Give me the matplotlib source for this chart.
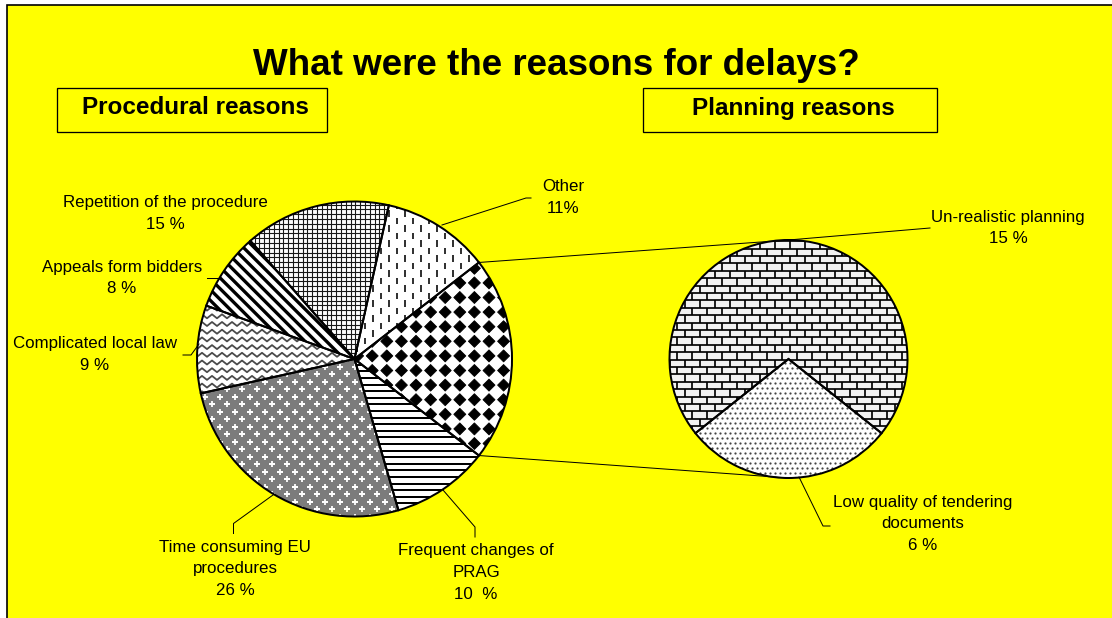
import numpy as np
import matplotlib
matplotlib.use("Agg")
import matplotlib.pyplot as plt
import matplotlib.patches as mpatches
from matplotlib.collections import LineCollection, PolyCollection

# ---------------- data ----------------
title = "What were the reasons for delays?"
group_titles = ["Procedural reasons", "Planning reasons"]

main_labels = ["Other", "Repetition of the procedure", "Appeals form bidders",
               "Complicated local law", "Time consuming EU\nprocedures",
               "Frequent changes of\nPRAG"]
main_values = [11, 15, 8, 9, 26, 10]
main_pct_text = ["11%", "15 %", "8 %", "9 %", "26 %", "10  %"]

sub_labels = ["Un-realistic planning", "Low quality of tendering\ndocuments"]
sub_values = [15, 6]
sub_pct_text = ["15 %", "6 %"]

# ---------------- layout ----------------
W, H = 1112, 618
plt.rcParams["font.family"] = ["Liberation Sans", "DejaVu Sans"]
fig = plt.figure(figsize=(W / 100, H / 100), dpi=100, facecolor="white")
ax = fig.add_axes([0, 0, 1, 1])

def Y(y):  # image y (down) -> data y (up)
    return H - y

PX = 0.72  # points per pixel at dpi 100

# background frame
ax.add_patch(mpatches.Rectangle((7, -10), W + 20, Y(5) + 10, facecolor="#FFFF00",
                                edgecolor="black", lw=1.2, zorder=0))

# ---------------- pies ----------------
c1, r1 = (354.5, Y(359)), 157.5
c2, r2 = (788.5, Y(359)), 119

combined = sum(sub_values)
left_values = [combined] + main_values
half_angle = combined / sum(left_values) * 180.0
wp = dict(edgecolor="none", linewidth=0)
wedges1, _ = ax.pie(left_values, startangle=-half_angle, counterclock=True,
                    center=c1, radius=r1, wedgeprops=wp, frame=True,
                    colors=["white"] * len(left_values))
right_values = [sub_values[1], sub_values[0]]
start2 = -90 - sub_values[1] / combined * 180.0
wedges2, _ = ax.pie(right_values, startangle=start2, counterclock=True,
                    center=c2, radius=r2, wedgeprops=wp, frame=True,
                    colors=["white"] * len(right_values))


def box_grid(c, r, step):
    xs = np.arange(c[0] - r - step, c[0] + r + step, step)
    ys = np.arange(c[1] - r - step, c[1] + r + step, step)
    return xs, ys


def add_lc(segs, w, color, lw_px):
    lc = LineCollection(segs, colors=color, linewidths=lw_px * PX, zorder=2)
    lc.set_clip_path(w)
    ax.add_collection(lc)


def pat_diamonds(w, c, r):
    p, h = 14.6, 6.0
    xs, ys = box_grid(c, r, p)
    polys = []
    for x in xs:
        for y in ys:
            polys.append([(x - h, y), (x - 1, y + h - 1), (x, y + h), (x + 1, y + h - 1),
                          (x + h, y), (x + 1, y - h + 1), (x, y - h), (x - 1, y - h + 1)])
    pc = PolyCollection(polys, facecolor="black", edgecolor="black", lw=0.6, zorder=2)
    pc.set_clip_path(w)
    ax.add_collection(pc)


def pat_dashes(w, c, r):
    dx, per, ln = 8.0, 15.0, 6.5
    xs, ys = box_grid(c, r, per)
    segs = []
    for i, x in enumerate(np.arange(c[0] - r, c[0] + r, dx)):
        off = (per / 2) * (i % 2)
        for y in ys:
            segs.append([(x, y + off), (x, y + off + ln)])
    add_lc(segs, w, "#333333", 2.0)


def pat_grid(w, c, r):
    s = 4.8
    xs, ys = box_grid(c, r, s)
    segs = [[(x, ys[0]), (x, ys[-1])] for x in xs] + [[(xs[0], y), (xs[-1], y)] for y in ys]
    add_lc(segs, w, "#1a1a1a", 1.1)


def pat_diag(w, c, r):
    per = 7.6 * np.sqrt(2)
    segs = []
    for k in np.arange(-3 * r, 3 * r, per):
        x0, x1 = c[0] - r - 5, c[0] + r + 5
        segs.append([(x0, c[1] - (x0 - c[0]) + k), (x1, c[1] - (x1 - c[0]) + k)])
    add_lc(segs, w, "black", 3.3)


def pat_wave(w, c, r):
    row, wl, amp = 7.7, 10.0, 2.0
    xs = np.arange(c[0] - r - wl, c[0] + r + wl, wl / 2)
    segs = []
    for y in np.arange(c[1] - r - row, c[1] + r + row, row):
        segs.append([(x, y + (amp if i % 2 else -amp)) for i, x in enumerate(xs)])
    add_lc(segs, w, "#4a4a4a", 1.8)


def pat_gray_stars(w, c, r):
    w.set_facecolor("#7c7c7c")
    px, rowh = 15.0, 7.5
    pts = []
    for j, y in enumerate(np.arange(c[1] - r - rowh, c[1] + r + rowh, rowh)):
        off = (px / 2) * (j % 2)
        for x in np.arange(c[0] - r - px, c[0] + r + px, px):
            pts.append((x + off, y))
    pts = np.array(pts)
    ln, = ax.plot(pts[:, 0], pts[:, 1], ls="none", marker="+", ms=4.5, mew=1.3,
                  color="white", zorder=2)
    ln.set_clip_path(w)


def pat_hlines(w, c, r):
    s = 6.6
    xs, ys = box_grid(c, r, s)
    segs = [[(xs[0], y), (xs[-1], y)] for y in ys]
    add_lc(segs, w, "black", 2.0)


def pat_bricks(w, c, r):
    w.set_facecolor("#f2f2f2")
    rowh, bw = 7.4, 15.0
    segs = []
    ys = np.arange(c[1] - r - rowh, c[1] + r + rowh, rowh)
    x0, x1 = c[0] - r - bw, c[0] + r + bw
    for j, y in enumerate(ys):
        segs.append([(x0, y), (x1, y)])
        off = (bw / 2) * (j % 2)
        for x in np.arange(x0, x1, bw):
            segs.append([(x + off, y), (x + off, y + rowh)])
    add_lc(segs, w, "black", 1.7)


def pat_dots(w, c, r):
    p = 5.0
    pts = []
    for j, y in enumerate(np.arange(c[1] - r - p, c[1] + r + p, p)):
        off = (p / 2) * (j % 2)
        for x in np.arange(c[0] - r - p, c[0] + r + p, p):
            pts.append((x + off, y))
    pts = np.array(pts)
    ln, = ax.plot(pts[:, 0], pts[:, 1], ls="none", marker="o", ms=1.6, mew=0,
                  color="#444444", zorder=2)
    ln.set_clip_path(w)


left_patterns = [pat_diamonds, pat_dashes, pat_grid, pat_diag, pat_wave,
                 pat_gray_stars, pat_hlines]
for w, f in zip(wedges1, left_patterns):
    f(w, c1, r1)
for w, f in zip(wedges2, [pat_dots, pat_bricks]):
    f(w, c2, r2)

# outlines on top
for w in list(wedges1) + list(wedges2):
    ax.add_patch(mpatches.Wedge(w.center, w.r, w.theta1, w.theta2, fill=False,
                                edgecolor="black", lw=2.0 * PX, zorder=4))

# ---------------- connector lines ----------------
a = np.deg2rad(half_angle)
p_top = (c1[0] + r1 * np.cos(a), c1[1] + r1 * np.sin(a))
p_bot = (c1[0] + r1 * np.cos(a), c1[1] - r1 * np.sin(a))
ax.plot([p_top[0], c2[0]], [p_top[1], c2[1] + r2], color="black", lw=1.0 * PX, zorder=5)
ax.plot([p_bot[0], c2[0]], [p_bot[1], c2[1] - r2], color="black", lw=1.0 * PX, zorder=5)

# ---------------- leader lines (image coords) ----------------
leaders = [
    [(442, 225), (526, 198), (531, 198)],          # Other
    None,                                           # Repetition
    [(207, 278), (218, 278)],                       # Appeals
    [(183, 355), (191, 355), (199, 344)],           # Complicated
    [(273, 495), (233.5, 523.5), (233.5, 533.5)],   # Time consuming
    [(443, 490), (475, 527), (475, 537)],           # Frequent
]
sub_leaders = [
    [(788.5, 240), (930, 228)],                     # Un-realistic
    [(799, 477), (823, 526), (830, 526)],           # Low quality
]
for pts in leaders + sub_leaders:
    if pts:
        xs, ys = zip(*pts)
        ax.plot(xs, [Y(v) for v in ys], color="black", lw=1.0 * PX, zorder=5)

# ---------------- labels ----------------
label_pos = [(563, 197.5), (165, 213.5), (122, 278), (95, 354.5), (235, 569), (476, 572.5)]
sub_label_pos = [(1008, 228), (923, 524)]
for txt, pct, (x, y) in zip(main_labels + sub_labels, main_pct_text + sub_pct_text,
                            label_pos + sub_label_pos):
    ax.text(x, Y(y), f"{txt}\n{pct}", ha="center", va="center", multialignment="center",
            fontsize=12.2, linespacing=1.55, color="black", zorder=6)

# ---------------- titles ----------------
ax.text(556.5, Y(75), title, ha="center", va="baseline", fontsize=26.5,
        fontweight="bold", zorder=6)
boxes = [(57, 88, 327, 132), (643, 88, 937, 132)]
text_x = [195, 793.5]
for (x0, y0, x1, y1), gt, tx in zip(boxes, group_titles, text_x):
    ax.add_patch(mpatches.Rectangle((x0, Y(y1)), x1 - x0, y1 - y0, facecolor="none",
                                    edgecolor="black", lw=1.3 * PX, zorder=5))
    ax.text(tx, Y(114.5), gt, ha="center", va="baseline", fontsize=17.5,
            fontweight="bold", zorder=6)

ax.set_xlim(0, W)
ax.set_ylim(0, H)
ax.set_aspect("auto")
ax.axis("off")
fig.savefig("out.png", dpi=100, facecolor="white")
